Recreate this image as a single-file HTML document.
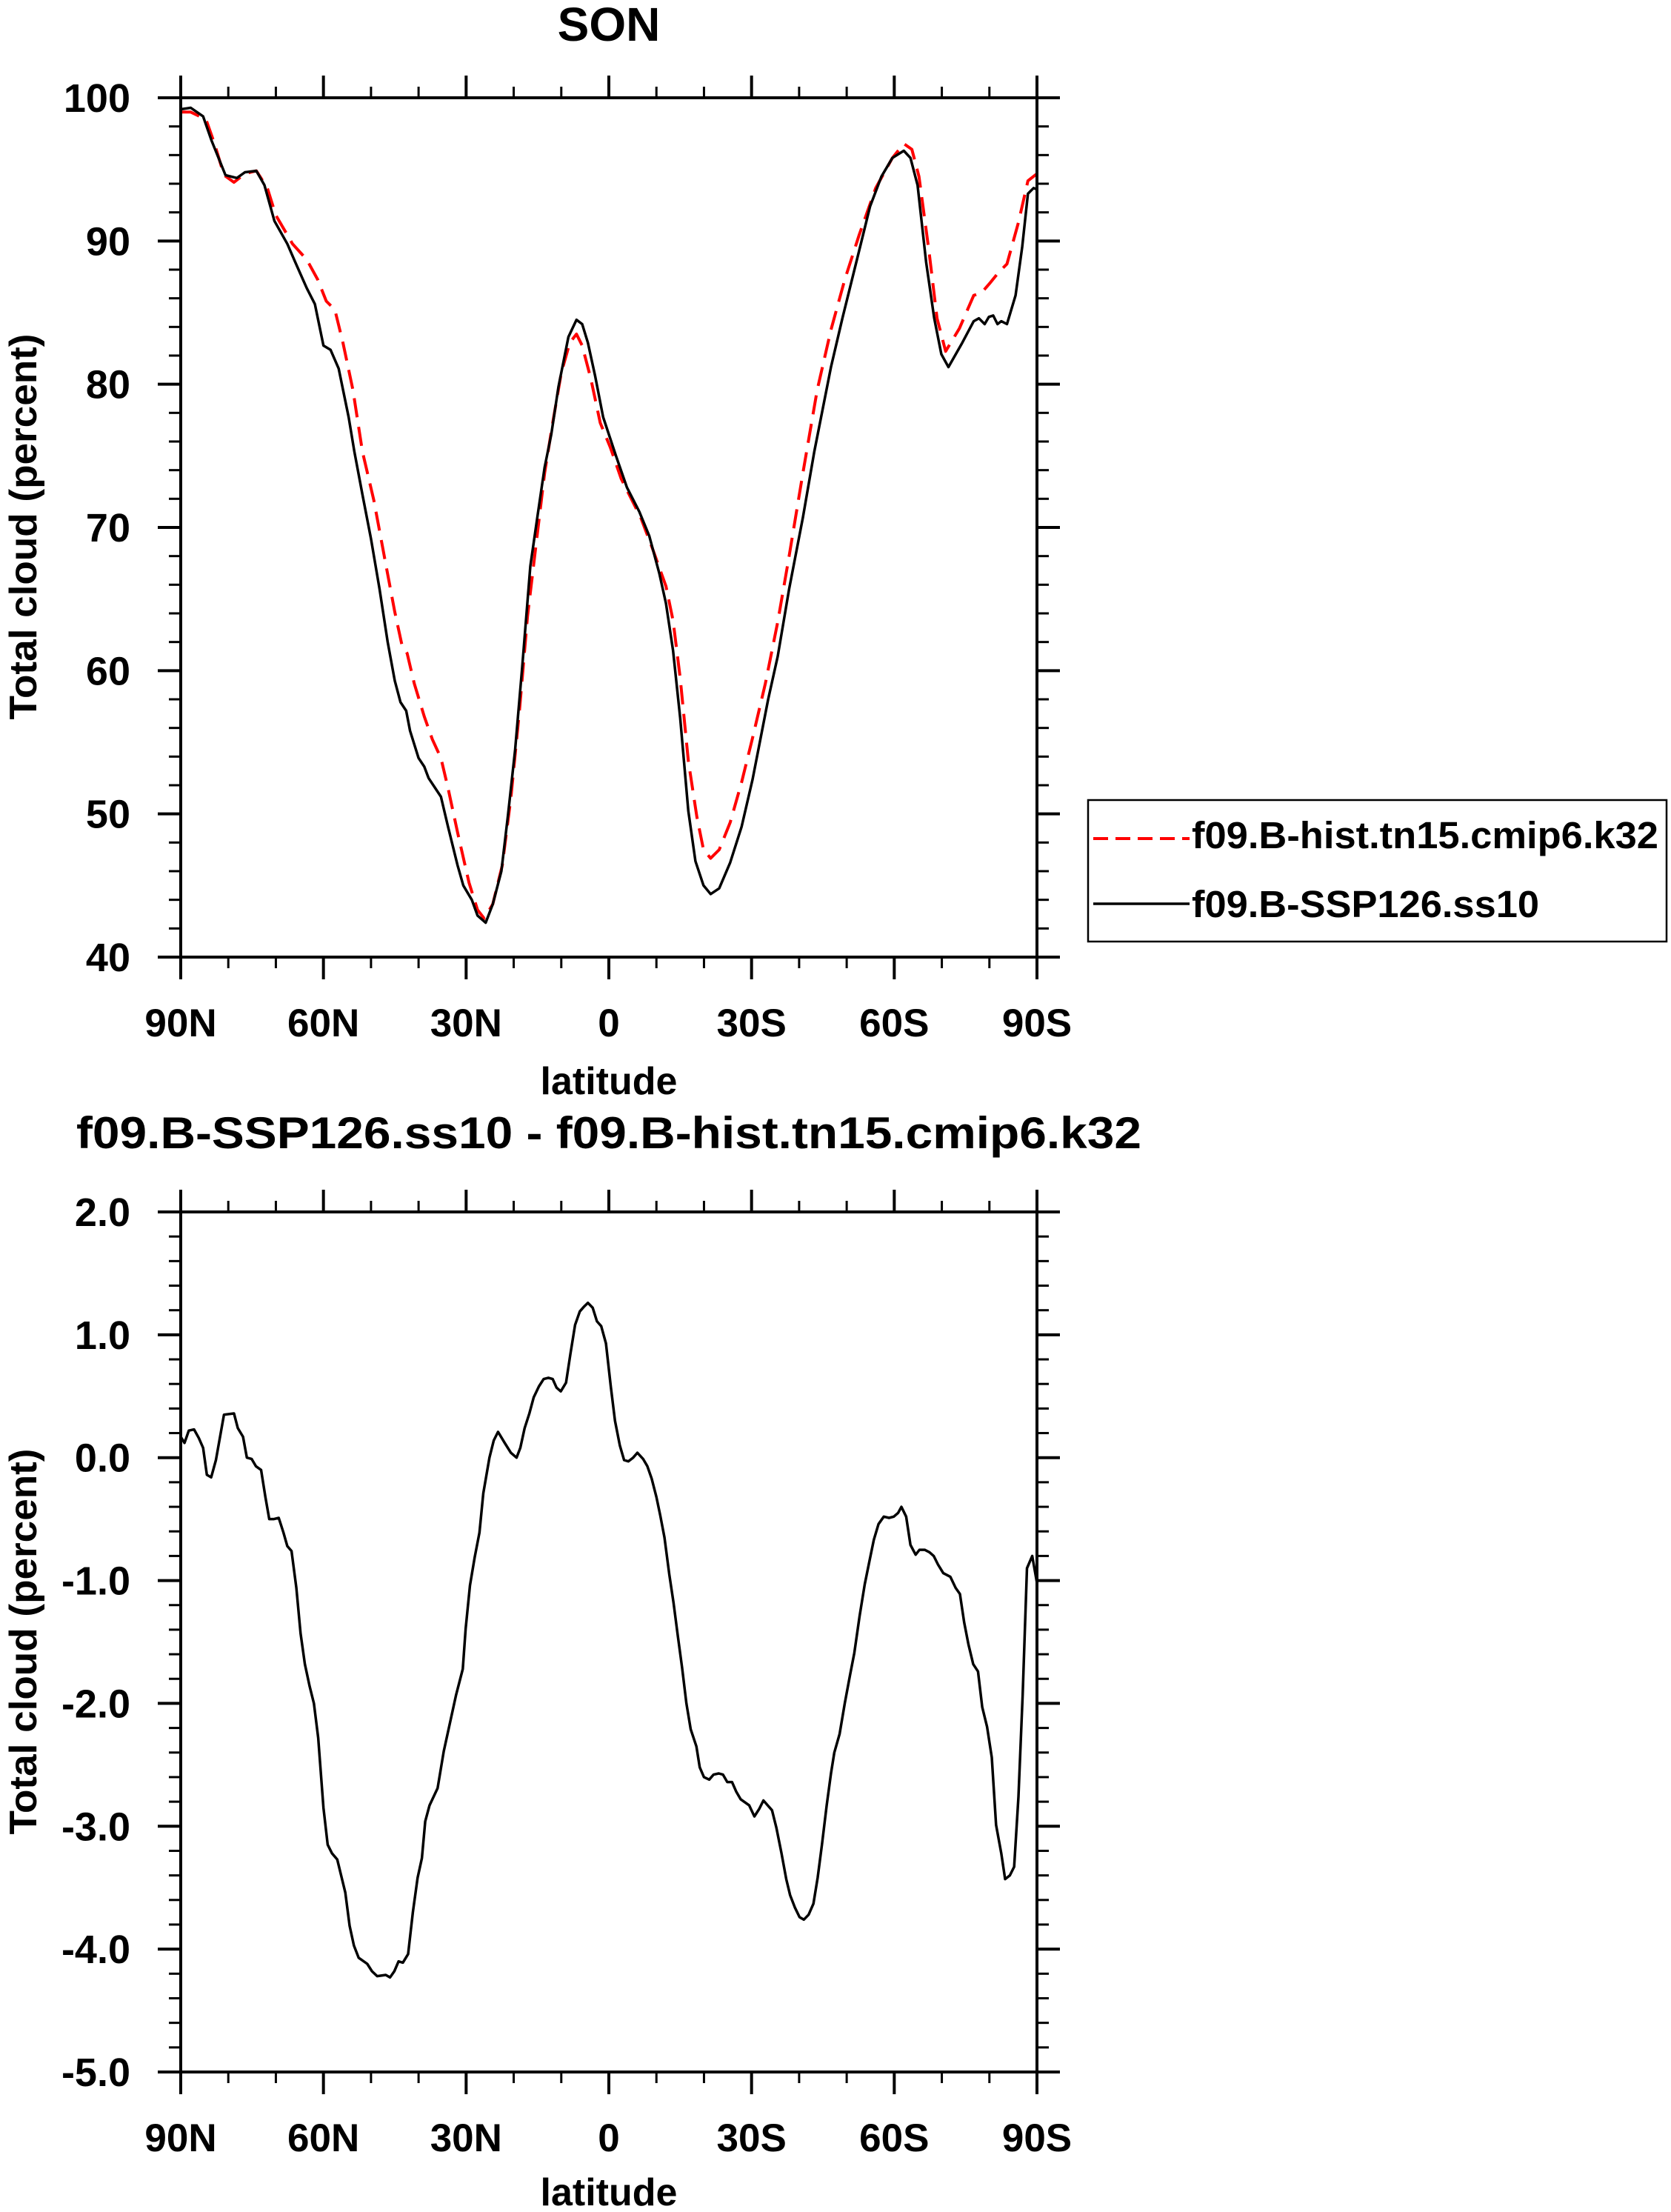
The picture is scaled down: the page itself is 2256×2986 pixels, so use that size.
<!DOCTYPE html>
<html>
<head>
<meta charset="utf-8">
<style>
html,body{margin:0;padding:0;background:#fff;}
svg{display:block;}
text{font-family:"Liberation Sans",Arial,sans-serif;font-weight:bold;fill:#000;}
</style>
</head>
<body>
<svg id="fig" width="2256" height="2986" viewBox="0 0 2256 2986" xmlns="http://www.w3.org/2000/svg">
  <text x="822" y="55" font-size="64" text-anchor="middle">SON</text>
  <text x="822" y="1550" font-size="60" text-anchor="middle" textLength="1438" lengthAdjust="spacingAndGlyphs">f09.B-SSP126.ss10 - f09.B-hist.tn15.cmip6.k32</text>
  <text transform="translate(49,711) rotate(-90)" font-size="52" text-anchor="middle" textLength="521" lengthAdjust="spacingAndGlyphs">Total cloud (percent)</text>
  <text transform="translate(49,2216) rotate(-90)" font-size="52" text-anchor="middle" textLength="521" lengthAdjust="spacingAndGlyphs">Total cloud (percent)</text>
  <text x="822" y="1477" font-size="52" text-anchor="middle">latitude</text>
  <text x="822" y="2977" font-size="52" text-anchor="middle">latitude</text>
  <g id="top"></g>
  <g id="bot"></g>
  <g>
    <rect x="1469" y="1080" width="781" height="191" fill="#fff" stroke="#000" stroke-width="2.5"/>
    <line x1="1476" y1="1132" x2="1606" y2="1132" stroke="#ff0000" stroke-width="4" stroke-dasharray="20,10"/>
    <text x="1609" y="1145" font-size="51" textLength="630" lengthAdjust="spacingAndGlyphs">f09.B-hist.tn15.cmip6.k32</text>
    <line x1="1476" y1="1220" x2="1606" y2="1220" stroke="#000" stroke-width="3.5"/>
    <text x="1609" y="1238" font-size="51" textLength="469" lengthAdjust="spacingAndGlyphs">f09.B-SSP126.ss10</text>
  </g>
</svg>
<script>
// ---- top panel data ----
const sspLat = [90,87.9,85.3,83.5,80.6,78.2,76.5,74.1,72.4,70.3,67.6,65.9,63.5,61.8,60.0,58.5,56.8,54.7,53.5,51.8,50.0,48.2,46.5,45.0,43.8,42.6,41.8,40.0,38.8,37.9,36.5,35.3,33.8,31.8,30.6,28.8,27.6,25.9,24.4,22.6,21.2,19.7,18.2,16.5,15.0,13.5,12.1,10.6,8.5,6.8,5.6,4.4,2.9,1.2,-1.5,-3.8,-6.4,-8.5,-10.6,-12.0,-13.5,-15.0,-16.7,-18.2,-19.9,-21.4,-23.2,-25.5,-27.9,-30.2,-33.5,-35.5,-37.9,-40.8,-43.2,-46.7,-49.1,-52.6,-54.9,-57.3,-59.6,-62.0,-63.4,-64.9,-66.7,-68.4,-69.9,-71.4,-74.3,-76.7,-77.8,-79.0,-79.9,-80.8,-81.7,-82.5,-83.7,-85.5,-86.9,-88.1,-89.3,-90];
const sspVal = [99.2,99.3,98.7,97.0,94.6,94.4,94.8,94.9,93.9,91.4,89.8,88.5,86.7,85.6,82.7,82.4,81.1,77.7,75.3,72.3,69.2,65.7,62.0,59.3,57.8,57.2,55.8,53.9,53.3,52.5,51.8,51.2,49.1,46.4,45.0,44.0,42.9,42.4,43.7,46.0,49.9,54.5,60.3,67.3,70.8,74.2,76.5,79.8,83.3,84.5,84.2,82.9,80.6,77.7,75.0,72.8,71.1,69.4,66.8,64.7,61.4,56.7,50.2,46.7,45.0,44.4,44.8,46.6,49.1,52.4,58.0,61.0,65.7,70.7,75.3,81.2,84.6,89.3,92.4,94.5,95.8,96.3,95.8,93.9,88.5,84.6,82.1,81.2,82.9,84.4,84.6,84.2,84.7,84.8,84.2,84.4,84.2,86.2,89.6,93.3,93.7,93.6];
const histLat = [90,87.9,84.7,82.9,80.9,78.8,76.5,74.1,71.8,70.0,66.5,63.5,61.2,59.4,57.6,55.9,53.8,51.8,49.4,47.1,45.0,43.5,42.4,40.9,38.8,37.1,35.3,33.8,31.8,29.4,27.6,26.2,24.4,22.4,20.6,18.8,17.1,15.3,13.5,11.8,10.0,8.2,6.8,5.6,3.8,1.8,-0.3,-2.6,-6.7,-9.1,-12.0,-13.5,-15.0,-16.7,-18.5,-19.9,-21.4,-23.2,-25.5,-27.9,-30.2,-32.9,-35.5,-37.9,-40.8,-43.8,-46.7,-49.6,-52.6,-56.1,-59.6,-62.0,-63.7,-65.2,-67.3,-69.0,-70.8,-73.7,-76.7,-78.4,-80.2,-81.9,-83.7,-86.1,-88.1,-90];
const histVal = [99.0,99.0,98.5,96.8,94.6,94.1,94.7,94.9,93.7,91.8,89.8,88.7,87.3,85.8,85.2,82.9,79.6,75.3,71.9,67.8,64.1,61.8,61.2,59.1,56.8,55.2,53.9,51.8,48.7,45.2,43.3,42.7,43.7,46.4,51.1,57.2,63.8,68.8,73.8,77.3,80.8,82.9,83.5,82.7,80.4,77.3,75.6,73.4,70.7,68.6,65.9,63.5,59.5,53.7,49.8,47.5,46.9,47.5,49.4,52.2,55.3,59.1,63.4,68.0,73.8,79.6,83.8,87.3,90.4,93.7,95.8,96.8,96.4,94.5,89.3,84.6,82.3,83.9,86.2,86.4,87.1,87.8,88.4,91.3,94.2,94.7];
const topYTicks = [40,50,60,70,80,90,100];
const topYLabels = ["40","50","60","70","80","90","100"];
// ---- bottom panel data ----
const diffLat = [90,89.2,88.3,87.2,86.2,85.3,84.5,83.6,82.6,80.9,78.8,78.0,76.9,76.1,75.1,74.2,73.1,72.2,71.4,70.4,69.4,68.4,67.6,66.7,65.7,64.8,63.9,62.9,62.0,61.1,60.0,59.1,58.2,57.1,55.4,54.5,53.6,52.6,50.8,49.8,48.7,46.9,46.0,45.1,44.2,43.3,42.2,41.2,40.2,39.3,38.6,37.7,36.0,34.7,32.1,30.7,30.1,29.2,28.2,27.2,26.4,25.1,24.2,23.3,21.9,20.6,19.4,18.6,17.7,16.7,15.8,14.7,13.7,12.7,11.8,11.0,10.1,9.0,8.1,7.1,6.1,5.2,4.4,3.4,2.5,1.6,0.6,-0.4,-1.3,-2.3,-3.2,-4.1,-5.1,-6.0,-7.2,-8.1,-9.0,-10.0,-10.8,-11.7,-12.7,-13.6,-14.5,-15.4,-16.3,-17.2,-18.4,-19.1,-20.0,-21.1,-22.0,-23.1,-24.0,-24.9,-25.9,-26.8,-27.7,-29.5,-30.6,-31.6,-32.5,-34.3,-35.2,-36.3,-37.3,-38.1,-39.1,-40.1,-41.0,-42.0,-43.0,-43.9,-44.8,-45.8,-46.7,-47.4,-48.5,-49.6,-50.7,-51.6,-52.7,-53.8,-54.8,-55.7,-56.7,-57.8,-58.9,-59.9,-60.8,-61.5,-62.5,-63.4,-64.5,-65.3,-66.4,-67.4,-68.3,-69.2,-70.3,-71.8,-72.9,-73.8,-74.7,-75.6,-76.6,-77.6,-78.5,-79.5,-80.5,-81.4,-82.5,-83.3,-84.3,-85.2,-86.1,-87.0,-87.9,-89.0,-90];
const diffVal = [0.17,0.12,0.22,0.23,0.16,0.08,-0.14,-0.16,-0.02,0.35,0.36,0.24,0.17,0.00,-0.01,-0.07,-0.10,-0.32,-0.50,-0.50,-0.49,-0.61,-0.72,-0.76,-1.06,-1.43,-1.68,-1.86,-2.00,-2.28,-2.85,-3.15,-3.22,-3.27,-3.54,-3.81,-3.97,-4.07,-4.12,-4.18,-4.22,-4.21,-4.23,-4.18,-4.10,-4.11,-4.04,-3.70,-3.42,-3.26,-2.96,-2.83,-2.69,-2.39,-1.93,-1.72,-1.39,-1.04,-0.81,-0.61,-0.29,0.00,0.14,0.21,0.12,0.04,0.00,0.08,0.24,0.36,0.49,0.58,0.64,0.65,0.64,0.57,0.54,0.61,0.84,1.08,1.19,1.23,1.26,1.22,1.11,1.07,0.93,0.58,0.30,0.10,-0.02,-0.03,0.00,0.04,-0.01,-0.07,-0.17,-0.32,-0.47,-0.65,-0.95,-1.18,-1.45,-1.71,-2.00,-2.21,-2.35,-2.52,-2.60,-2.62,-2.58,-2.57,-2.58,-2.64,-2.64,-2.72,-2.78,-2.83,-2.92,-2.86,-2.79,-2.87,-3.01,-3.22,-3.43,-3.56,-3.66,-3.74,-3.76,-3.72,-3.63,-3.42,-3.15,-2.83,-2.57,-2.40,-2.25,-2.00,-1.77,-1.59,-1.29,-1.03,-0.84,-0.67,-0.54,-0.48,-0.49,-0.48,-0.45,-0.40,-0.48,-0.71,-0.79,-0.75,-0.75,-0.77,-0.80,-0.87,-0.94,-0.97,-1.06,-1.11,-1.34,-1.52,-1.68,-1.74,-2.03,-2.19,-2.44,-2.99,-3.22,-3.43,-3.40,-3.33,-2.76,-1.93,-0.90,-0.80,-1.02];
const botYTicks = [-5,-4,-3,-2,-1,0,1,2];
const botYLabels = ["-5.0","-4.0","-3.0","-2.0","-1.0","0.0","1.0","2.0"];
const xTicks = [90,60,30,0,-30,-60,-90];
const xLabels = ["90N","60N","30N","0","30S","60S","90S"];

const NS = "http://www.w3.org/2000/svg";
const X0 = 244, X1 = 1400;
function xScale(lat){ return X0 + (90 - lat) / 180 * (X1 - X0); }
function mk(tag, attrs, parent){
  const e = document.createElementNS(NS, tag);
  for (const k in attrs) e.setAttribute(k, attrs[k]);
  parent.appendChild(e);
  return e;
}

function drawPanel(g, y0, y1, vmin, vmax, minorStep, yTicks, yLabels, prefix){
  const yScale = v => y1 - (v - vmin) / (vmax - vmin) * (y1 - y0);
  const ticks = mk('g', {stroke:'#000', 'stroke-width':3}, g);
  
  
  const n = Math.round((vmax - vmin) / minorStep);
  for (let i = 0; i <= n; i++){
    const v = vmin + i * minorStep;
    const y = yScale(v);
    const major = yTicks.some(t => Math.abs(t - v) < 1e-6);
    const L = major ? 31 : 16;
    mk('line', {x1:X0 - L, y1:y, x2:X0, y2:y, 'stroke-width': major ? 4 : 3}, ticks);
    mk('line', {x1:X1, y1:y, x2:X1 + L, y2:y, 'stroke-width': major ? 4 : 3}, ticks);
  }
  for (let lat = 90; lat >= -90; lat -= 10){
    const x = xScale(lat);
    const major = lat % 30 === 0;
    const L = major ? 30 : 15;
    mk('line', {x1:x, y1:y0 - L, x2:x, y2:y0, 'stroke-width': major ? 4 : 3}, ticks);
    mk('line', {x1:x, y1:y1, x2:x, y2:y1 + L, 'stroke-width': major ? 4 : 3}, ticks);
  }
  yTicks.forEach((v, i) => {
    const t = mk('text', {x:176, y:yScale(v) + 19, 'font-size':54, 'text-anchor':'end'}, g);
    
    
    t.textContent = yLabels[i];
  });
  xTicks.forEach((lat, i) => {
    const t = mk('text', {x:xScale(lat), y:y1 + 107, 'font-size':53, 'text-anchor':'middle'}, g);
    
    
    t.textContent = xLabels[i];
  });
  return yScale;
}

function pathFrom(lats, vals, yScale){
  return lats.map((la, i) => (i ? 'L' : 'M') + xScale(la).toFixed(1) + ',' + yScale(vals[i]).toFixed(1)).join(' ');
}

const gt = document.getElementById('top');
const ysT = drawPanel(gt, 132, 1292, 40, 100, 2, topYTicks, topYLabels, 'top');
const pHist = mk('path', {d:pathFrom(histLat, histVal, ysT), fill:'none', stroke:'#ff0000', 'stroke-width':4, 'stroke-dasharray':'26,13', 'stroke-linejoin':'round'}, gt);


const pSsp = mk('path', {d:pathFrom(sspLat, sspVal, ysT), fill:'none', stroke:'#000', 'stroke-width':3.5, 'stroke-linejoin':'round'}, gt);


const frT = mk('rect', {x:X0, y:132, width:X1 - X0, height:1160, fill:'none', stroke:'#000', 'stroke-width':4}, gt);



const gb = document.getElementById('bot');
const ysB = drawPanel(gb, 1636, 2797, -5, 2, 0.2, botYTicks, botYLabels, 'bottom');
const pDiff = mk('path', {d:pathFrom(diffLat, diffVal, ysB), fill:'none', stroke:'#000', 'stroke-width':3.5, 'stroke-linejoin':'round'}, gb);


const frB = mk('rect', {x:X0, y:1636, width:X1 - X0, height:1161, fill:'none', stroke:'#000', 'stroke-width':4}, gb);


</script>
</body>
</html>
